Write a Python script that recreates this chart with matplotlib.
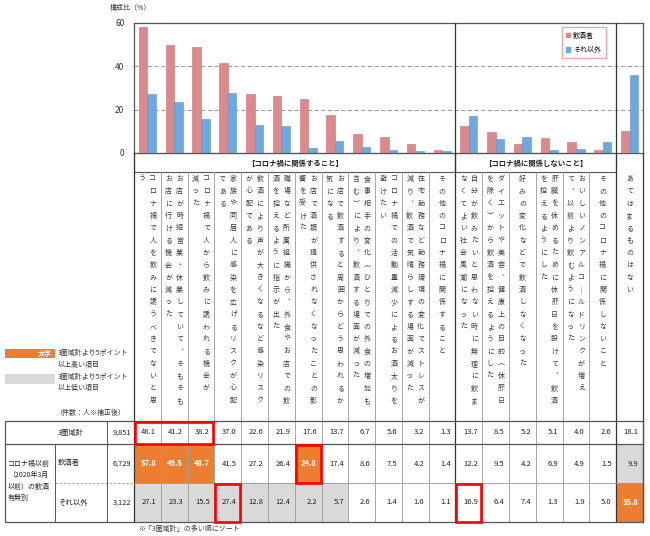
import matplotlib
matplotlib.use('Agg')
import matplotlib.pyplot as plt
from matplotlib.patches import Rectangle, Patch

plt.rcParams['font.family'] = ['Noto Sans CJK JP', 'DejaVu Sans']

# --- data -------------------------------------------------------------
labels = [
    ['コロナ禍で人を飲みに誘うべきでないと思', 'う'],
    ['お店が時短営業・休業していて、そもそも', 'お店に行ける機会が減った'],
    ['コロナ禍で人から飲みに誘われる機会が', '減った'],
    ['家族や同居人に感染を広げるリスクが心配', 'である'],
    ['飲酒により声が大きくなるなど感染リスク', 'が心配である'],
    ['職場など所属組織から、外食やお店での飲', '酒を控えるように指示が出た'],
    ['お店で酒類が提供されなくなったことの影', '響を受けた'],
    ['お店で飲酒すると周囲からどう思われるか', '気になる'],
    ['食事相手の変化（ひとりでの外食の増加も', '含む）により、飲酒する場面が減った'],
    ['コロナ禍での活動量減少によるお酒太りを', '避けたい'],
    ['在宅勤務など勤務環境の変化でストレスが', '減り、飲酒で気晴らしする場面が減った'],
    ['その他のコロナ禍に関係すること'],
    ['自分が飲みたいと思わない時に無理に飲ま', 'なくてよい社会風潮になった'],
    ['ダイエットや美容、健康上の目的（休肝日', 'を除く）から飲酒を控えるようにした'],
    ['好みの変化などで飲酒しなくなった'],
    ['肝臓を休めるために休肝日を設けて、飲酒', 'を控えるようにした'],
    ['おいしいノンアルコールドリンクが増え', 'て、以前より飲むようになった'],
    ['その他のコロナ禍に関係しないこと'],
    ['あてはまるものはない'],
]
total = [48.1, 41.2, 38.2, 37.0, 22.6, 21.9, 17.6, 13.7, 6.7, 5.6, 3.2, 1.3,
         13.7, 8.5, 5.2, 5.1, 4.0, 2.6, 18.1]
drinkers = [57.8, 49.5, 48.7, 41.5, 27.2, 26.4, 24.8, 17.4, 8.6, 7.5, 4.2, 1.4,
            12.2, 9.5, 4.2, 6.9, 4.9, 1.5, 9.9]
others = [27.1, 23.3, 15.5, 27.4, 12.8, 12.4, 2.2, 5.7, 2.6, 1.4, 1.0, 1.1,
          16.9, 6.4, 7.4, 1.3, 1.9, 5.0, 35.8]
row_names = ['3圏域計', '飲酒者', 'それ以外']
counts = ['9,851', '6,729', '3,122']
sections = [('【コロナ禍に関係すること】', 0, 12), ('【コロナ禍に関係しないこと】', 12, 18)]
# red outlines: (row, first col, last col)
red_boxes = [(0, 0, 2), (1, 6, 6), (2, 3, 3), (2, 12, 12)]

RED = '#DA8A8C'
BLUE = '#6FA8DC'
ORANGE = '#ED7D31'
GRAY = '#D9D9D9'
DARK = '#555555'
LINE = '#999999'

W, H = 650, 536
fig = plt.figure(figsize=(6.5, 5.36), dpi=100)

# --- bar chart --------------------------------------------------------
x0, x1 = 134, 643
y_top, y_zero = 22.5, 153
n = len(labels)
cw = (x1 - x0) / n

ax = fig.add_axes([x0 / W, 1 - y_zero / H, (x1 - x0) / W, (y_zero - y_top) / H])
pos = list(range(n))
ax.bar([p - 0.16 for p in pos], drinkers, 0.32, color=RED, edgecolor='#C87174', lw=0.4, zorder=3)
ax.bar([p + 0.16 for p in pos], others, 0.32, color=BLUE, edgecolor='#5B95CC', lw=0.4, zorder=3)
ax.set_xlim(-0.5, n - 0.5)
ax.set_ylim(0, 60)
ax.set_yticks([0, 20, 40, 60])
ax.set_xticks([])
ax.tick_params(axis='y', length=0, labelsize=6, colors='#333333', pad=7)
ax.grid(axis='y', color='#888888', ls=(0, (5, 3)), lw=0.6, zorder=0)
for s in ax.spines.values():
    s.set_color(DARK)
    s.set_linewidth(0.9)
for b in (11.5, 17.5):
    ax.axvline(b, color='#333333', lw=0.9, zorder=4)
ax.legend(handles=[Patch(color=RED, label='飲酒者'), Patch(color=BLUE, label='それ以外')],
          loc='upper right', bbox_to_anchor=((609 - x0) / (x1 - x0), (y_zero - 24) / (y_zero - y_top)),
          fontsize=5, handlelength=0.6, handleheight=0.6, handletextpad=0.5,
          borderpad=0.6, labelspacing=0.9, frameon=True, fancybox=False,
          edgecolor='#E8A8A8', framealpha=1)
fig.text(110 / W, 1 - 8 / H, '構成比（%）', fontsize=5, color='#333333', va='center')

# --- overlay in pixel coordinates for the table part -------------------
ov = fig.add_axes([0, 0, 1, 1])
ov.set_xlim(0, W)
ov.set_ylim(H, 0)
ov.axis('off')

def cx(i):
    return x0 + i * cw

band_bot = 172
tab_top, r1, r2, tab_bot = 421, 444, 483, 522

# section header bands
for text, a, b in sections:
    ov.add_patch(Rectangle((cx(a), y_zero), cx(b) - cx(a), band_bot - y_zero,
                           fill=False, ec=DARK, lw=0.8))
    ov.text((cx(a) + cx(b)) / 2, (y_zero + band_bot) / 2 + 0.5, text,
            ha='center', va='center', fontsize=5.3, color='#222222', fontweight='bold')

# vertical labels (first line on the right, as in vertical writing)
vert = {'、': '︑', '（': '︵', '）': '︶', 'ー': '｜'}
for i, lines in enumerate(labels):
    c = cx(i) + cw / 2
    offs = [0] if len(lines) == 1 else [5.5, -5.5]
    for off, line in zip(offs, lines):
        s = '\n'.join(vert.get(ch, ch) for ch in line)
        ov.text(c + off, 175, s, ha='center', va='top', fontsize=5,
                linespacing=1.72, color='#3a3a3a')

# column separators in label area and table
for i in range(1, n):
    if i in (12, 18):
        continue
    ov.plot([cx(i), cx(i)], [band_bot, tab_bot], color=LINE, lw=0.6)
for xb in (cx(0), cx(12), cx(18), cx(n)):
    ov.plot([xb, xb], [y_zero, tab_bot], color='#333333', lw=0.9)

# table cell fills and values
rows = [total, drinkers, others]
row_bounds = [(tab_top, r1), (r1, r2), (r2, tab_bot)]
for r, vals in enumerate(rows):
    ya, yb = row_bounds[r]
    for i, v in enumerate(vals):
        fill, tc, style = None, '#222222', dict()
        if r > 0:
            diff = v - total[i]
            if diff >= 5 - 1e-9:
                fill, tc = ORANGE, 'white'
                style = dict(fontweight='bold', fontstyle='italic')
            elif diff <= -5 + 1e-9:
                fill = GRAY
        if fill:
            ov.add_patch(Rectangle((cx(i), ya), cw, yb - ya, color=fill, lw=0, zorder=1))
        ov.text(cx(i + 1) - 4.5, (ya + yb) / 2, f'{v:.1f}', ha='right', va='center',
                fontsize=5.5, color=tc, zorder=3, **style)

# table grid
ov.add_patch(Rectangle((5, tab_top), x1 - 5, tab_bot - tab_top, fill=False, ec=DARK, lw=0.9, zorder=4))
ov.plot([5, x1], [r1, r1], color=DARK, lw=0.9, zorder=4)
ov.plot([55, x0], [r2, r2], color=LINE, lw=0.6, ls=(0, (3, 2)), zorder=4)
ov.plot([x0, x1], [r2, r2], color=LINE, lw=0.6, zorder=2)
ov.plot([55, 55], [r1, tab_bot], color=DARK, lw=0.7, zorder=4)
ov.plot([107, 107], [tab_top, tab_bot], color=DARK, lw=0.7, zorder=4)

# row headers
for r, name in enumerate(row_names):
    ya, yb = row_bounds[r]
    ov.text(58, (ya + yb) / 2, name, ha='left', va='center', fontsize=5.3, color='#222222')
    ov.text(131, (ya + yb) / 2, counts[r], ha='right', va='center', fontsize=5.3, color='#222222')
ov.text(8, 481, 'コロナ禍以前\n（2020年3月\n以前）の飲酒\n有無別', ha='left', va='center',
        fontsize=5, linespacing=1.6, color='#222222')

# red outlines
for r, a, b in red_boxes:
    ya, yb = row_bounds[r]
    ov.add_patch(Rectangle((cx(a) + 1, ya + 0.5), cx(b + 1) - cx(a) - 2, yb - ya - 1,
                           fill=False, ec='#FF0000', lw=1.9, zorder=5))

# highlight key
ov.add_patch(Rectangle((5, 349), 50, 9, color=ORANGE, lw=0))
ov.text(52, 353.5, '太字', ha='right', va='center', fontsize=5, color='white',
        fontweight='bold', fontstyle='italic')
ov.text(58, 349, '3圏域計より5ポイント\n以上高い項目', ha='left', va='top', fontsize=5,
        linespacing=1.6, color='#333333')
ov.add_patch(Rectangle((5, 374), 50, 10, color=GRAY, lw=0))
ov.text(58, 372.5, '3圏域計より5ポイント\n以上低い項目', ha='left', va='top', fontsize=5,
        linespacing=1.6, color='#333333')
ov.text(55, 413, '（件数：人※補正後）', ha='left', va='center', fontsize=5, color='#333333')
ov.text(138, 529, '※「3圏域計」の多い順にソート', ha='left', va='center', fontsize=5, color='#333333')

fig.savefig('out.png', dpi=100, facecolor='white')
